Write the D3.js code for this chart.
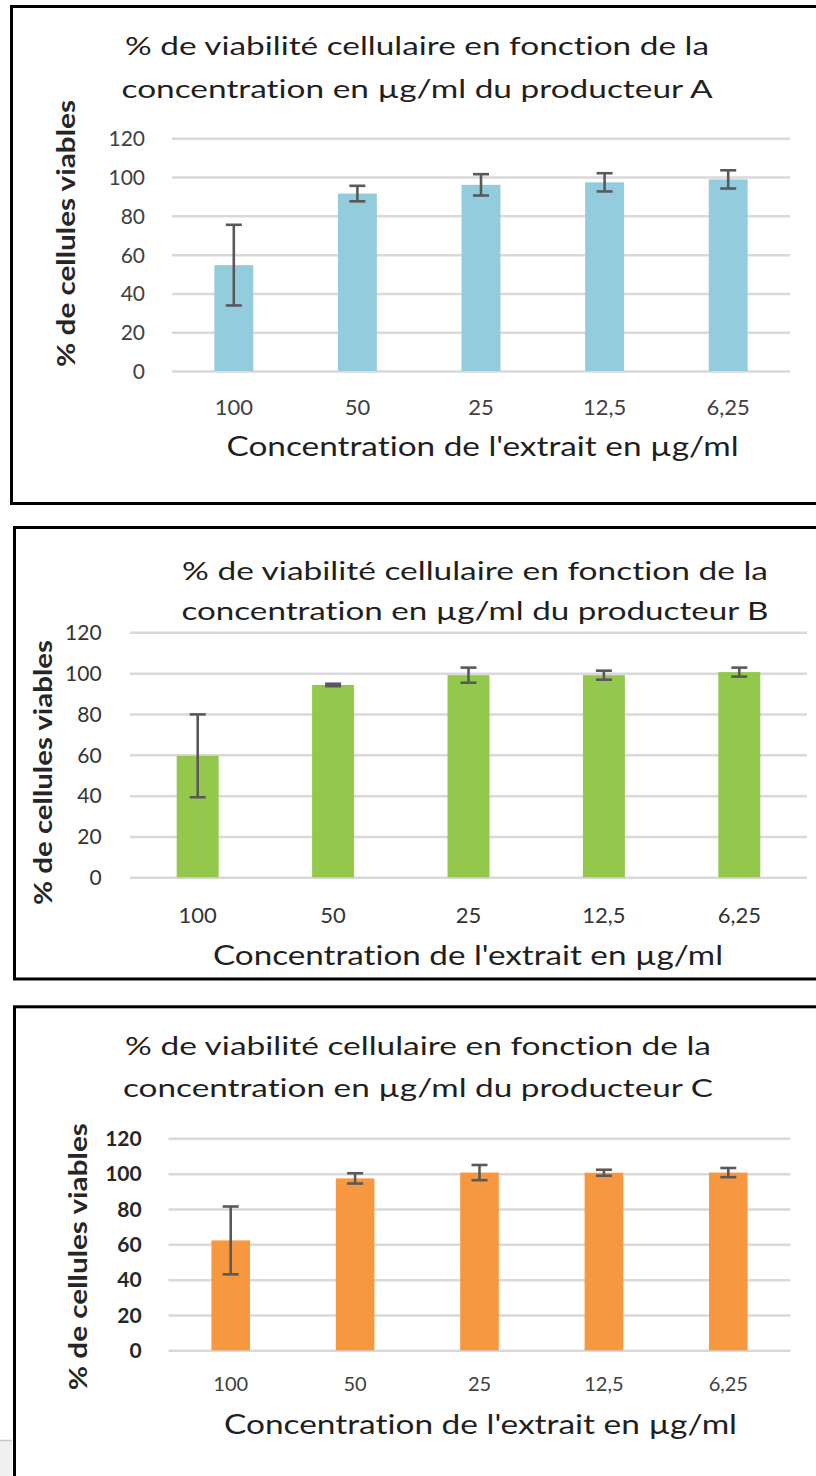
<!DOCTYPE html>
<html>
<head>
<meta charset="utf-8">
<script src="https://cdn.jsdelivr.net/npm/d3@7"></script>
<style>
  body { margin: 0; background: #fff; }
  svg { display: block; }
  text { font-family: Lato, "Open Sans", sans-serif; font-variant-ligatures: none; font-feature-settings: "liga" 0; }
</style>
</head>
<body>
<svg id="fig" width="816" height="1476"></svg>
<script>
// Concentrations (µg/ml) on the x axis and y-axis tick values
const categories = ["100", "50", "25", "12,5", "6,25"];
const yTickValues = [0, 20, 40, 60, 80, 100, 120];

// % viable cells (mean) and error (±) per producer
const viabilityA = [54.6, 91.5, 96.0, 97.3, 98.8];
const errorA     = [20.8, 4.0, 5.5, 4.7, 4.7];
const viabilityB = [59.5, 94.2, 99.0, 99.0, 100.5];
const errorB     = [20.3, 0.6, 3.7, 2.2, 2.2];
const viabilityC = [62.2, 97.3, 100.6, 100.5, 100.6];
const errorC     = [19.2, 2.9, 4.3, 1.7, 2.6];

// Text
const titleLine1 = "% de viabilité cellulaire en fonction de la";
const titleLine2 = p => `concentration en µg/ml du producteur ${p}`;
const xAxisTitle = "Concentration de l'extrait en µg/ml";
const yAxisTitle = "% de cellules viables";

// Panel layout
const panels = [
  { producer: "A", values: viabilityA, errors: errorA, color: "#93cddd",
    frame: { x: 11.5, y: 6.5, w: 830, h: 497 },
    plot: { x0: 172, x1: 790, yBottom: 371, yTop: 138.3 }, pad: 0.685,
    title: { cx: 417, y1: 55, y2: 98, w1: 584, w2: 591 },
    yTickX: 145, xTickY: 415, tickColor: "#404040", tickWeight: 400,
    xTitle: { cx: 482.5, y: 456, w: 512 },
    yTitle: { x: 75, cy: 233.5, len: 267 } },
  { producer: "B", values: viabilityB, errors: errorB, color: "#93c84c",
    frame: { x: 14.5, y: 527.5, w: 830, h: 451.5 },
    plot: { x0: 130, x1: 807, yBottom: 877.3, yTop: 632.3 }, pad: 0.69,
    title: { cx: 475, y1: 579.5, y2: 620, w1: 586, w2: 587 },
    yTickX: 101.6, xTickY: 923, tickColor: "#333333", tickWeight: 400,
    xTitle: { cx: 468, y: 965, w: 510 },
    yTitle: { x: 52, cy: 772.5, len: 265 } },
  { producer: "C", values: viabilityC, errors: errorC, color: "#f79840",
    frame: { x: 14.5, y: 1006.8, w: 830, h: 500 },
    plot: { x0: 168.5, x1: 790.5, yBottom: 1350.3, yTop: 1138.3 }, pad: 0.69,
    title: { cx: 418, y1: 1055, y2: 1097.3, w1: 586, w2: 590 },
    yTickX: 141.7, xTickY: 1391, tickColor: "#262626", tickWeight: 700,
    xTitle: { cx: 480.5, y: 1434, w: 513 },
    yTitle: { x: 87, cy: 1256.7, len: 267 } }
];

const svg = d3.select("#fig");

// small grey strip at the lower left edge
svg.append("rect").attr("x", 0).attr("y", 1440).attr("width", 12).attr("height", 36)
  .attr("fill", "#f0f0f0");
svg.append("line").attr("x1", 0).attr("x2", 12).attr("y1", 1440.5).attr("y2", 1440.5)
  .attr("stroke", "#c8c8c8").attr("stroke-width", 1.5);

panels.forEach(p => {
  const g = svg.append("g");

  // frame
  g.append("rect")
    .attr("x", p.frame.x).attr("y", p.frame.y)
    .attr("width", p.frame.w).attr("height", p.frame.h)
    .attr("fill", "#fff").attr("stroke", "#000").attr("stroke-width", 3);

  const x = d3.scaleBand().domain(categories)
    .range([p.plot.x0, p.plot.x1])
    .paddingInner(p.pad).paddingOuter(p.pad / 2);
  const y = d3.scaleLinear().domain([0, 120]).range([p.plot.yBottom, p.plot.yTop]);

  // gridlines + y tick labels
  const yAxis = g.append("g")
    .attr("transform", `translate(${p.plot.x0},0)`)
    .call(d3.axisLeft(y).tickValues(yTickValues)
      .tickSize(-(p.plot.x1 - p.plot.x0))
      .tickPadding(p.plot.x0 - p.yTickX));
  yAxis.select(".domain").remove();
  yAxis.selectAll(".tick line").attr("stroke", "#d9d9d9").attr("stroke-width", 2.5);
  yAxis.selectAll(".tick text")
    .attr("fill", p.tickColor).attr("font-size", 21).attr("font-weight", p.tickWeight)
    .attr("dy", "0.35em");

  // x tick labels
  const xAxis = g.append("g")
    .attr("transform", `translate(0,${p.xTickY})`)
    .call(d3.axisBottom(x).tickSize(0));
  xAxis.select(".domain").remove();
  xAxis.selectAll(".tick text")
    .attr("y", 0).attr("dy", null)
    .attr("fill", p.tickColor === "#262626" ? "#404040" : p.tickColor)
    .attr("font-size", p.producer === "C" ? 20 : 22);

  // bars
  g.append("g").selectAll("rect")
    .data(p.values)
    .join("rect")
    .attr("x", (d, i) => x(categories[i]))
    .attr("width", x.bandwidth())
    .attr("y", d => y(d))
    .attr("height", d => y(0) - y(d))
    .attr("fill", p.color);

  // error bars
  const capHalf = 8;
  const eb = g.append("g").attr("stroke", "#595959").attr("stroke-width", 2.6);
  p.values.forEach((v, i) => {
    const cx = x(categories[i]) + x.bandwidth() / 2;
    const lo = y(v - p.errors[i]), hi = y(v + p.errors[i]);
    eb.append("line").attr("x1", cx).attr("x2", cx).attr("y1", lo).attr("y2", hi);
    eb.append("line").attr("x1", cx - capHalf).attr("x2", cx + capHalf).attr("y1", lo).attr("y2", lo);
    eb.append("line").attr("x1", cx - capHalf).attr("x2", cx + capHalf).attr("y1", hi).attr("y2", hi);
  });

  // title
  g.append("text").attr("x", p.title.cx).attr("y", p.title.y1)
    .attr("text-anchor", "middle").attr("font-size", 25).attr("fill", "#1f1f1f")
    .attr("textLength", p.title.w1).attr("lengthAdjust", "spacingAndGlyphs")
    .text(titleLine1);
  g.append("text").attr("x", p.title.cx).attr("y", p.title.y2)
    .attr("text-anchor", "middle").attr("font-size", 25).attr("fill", "#1f1f1f")
    .attr("textLength", p.title.w2).attr("lengthAdjust", "spacingAndGlyphs")
    .text(titleLine2(p.producer));

  // axis titles
  g.append("text").attr("x", p.xTitle.cx).attr("y", p.xTitle.y)
    .attr("text-anchor", "middle").attr("font-size", 26).attr("fill", "#1f1f1f")
    .attr("textLength", p.xTitle.w).attr("lengthAdjust", "spacingAndGlyphs")
    .text(xAxisTitle);
  g.append("text")
    .attr("transform", `translate(${p.yTitle.x},${p.yTitle.cy}) rotate(-90)`)
    .attr("text-anchor", "middle").attr("font-size", 24).attr("font-weight", 700)
    .attr("fill", "#262626")
    .attr("textLength", p.yTitle.len).attr("lengthAdjust", "spacingAndGlyphs")
    .text(yAxisTitle);
});
</script>
</body>
</html>
